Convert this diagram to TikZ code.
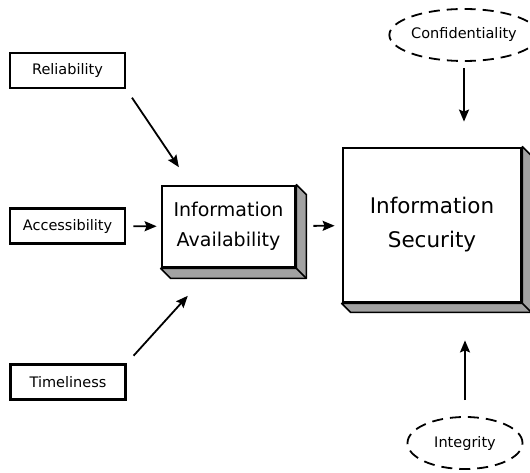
\documentclass[tikz,border=0pt]{standalone}
\usepackage{fontspec}
\setmainfont{DejaVu Sans}
\usepackage{tikz}
\usetikzlibrary{arrows.meta,positioning,shapes.geometric,calc,backgrounds}
\definecolor{ink}{HTML}{000000}
\definecolor{slab}{HTML}{A2A2A2}
\tikzset{
  tag/.style     ={draw=ink,line width=2.8pt,fill=white,minimum width=115pt,
                   minimum height=35pt,inner sep=0pt,font=\fontsize{14.5}{16}\selectfont},
  block/.style   ={draw=ink,line width=2.8pt,fill=white,inner sep=0pt,align=center},
  facet/.style   ={ellipse,draw=ink,line width=1.8pt,dash pattern=on 11pt off 7pt,
                   minimum width=115pt,minimum height=52pt,inner sep=0pt,
                   font=\fontsize{14.5}{16}\selectfont},
  slabside/.style={fill=slab,draw=ink,line width=1.5pt,line join=round},
  flow/.style    ={-{Stealth[length=12pt,width=10pt,inset=2pt]},line width=1.8pt,draw=ink}
}
\begin{document}
\begin{tikzpicture}[x=1pt,y=-1pt]
  \useasboundingbox (0,0) rectangle (530,473);
  \node[tag] (rel) at (67.5,70.5) {Reliability};
  \node[tag] (acc) at (67.5,226) {Accessibility};
  \node[tag] (tim) at (68,382) {Timeliness};
  \node[block,minimum width=133pt,minimum height=81pt,
        font=\fontsize{19}{30}\selectfont] (avail) at (228.5,226.5) {Information\\Availability};
  \node[block,minimum width=178pt,minimum height=154pt,
        font=\fontsize{21.5}{34}\selectfont] (sec) at (432,225) {Information\\Security};
  \node[facet] (conf) at (464,35) {Confidentiality};
  \node[facet] (integ) at (465,443) {Integrity};
  % extruded sides of the two blocks
  \begin{scope}[on background layer]
    \filldraw[slabside] (avail.north east) -- ++(10,10) -- ($(avail.south east)+(10,10)$)
      -- ($(avail.south west)+(10,10)$) -- (avail.south west) -- (avail.south east) -- cycle;
    \draw[slabside] (avail.south east) -- ++(10,10);
    \filldraw[slabside] (sec.north east) -- ++(9,9) -- ($(sec.south east)+(9,9)$)
      -- ($(sec.south west)+(9,9)$) -- (sec.south west) -- (sec.south east) -- cycle;
    \draw[slabside] (sec.south east) -- ++(9,9);
  \end{scope}
  \draw[flow,shorten <=10pt,shorten >=21pt] (rel.south east) -- ($(avail.north west)+(30,0)$);
  \draw[flow,shorten <=7pt,shorten >=4pt] (acc) -- (avail);
  \draw[flow,shorten <=10pt,shorten >=37pt] (tim.north east) -- ($(avail.south west)+(52,0)$);
  \draw[flow,shorten <=17pt,shorten >=7pt] (avail) -- (sec);
  \draw[flow,shorten <=6pt,shorten >=25pt] (conf.south) -- (conf.south |- sec.north);
  \draw[flow,shorten <=16pt,shorten >=37pt] (integ.north) -- (integ.north |- sec.south);
\end{tikzpicture}
\end{document}
